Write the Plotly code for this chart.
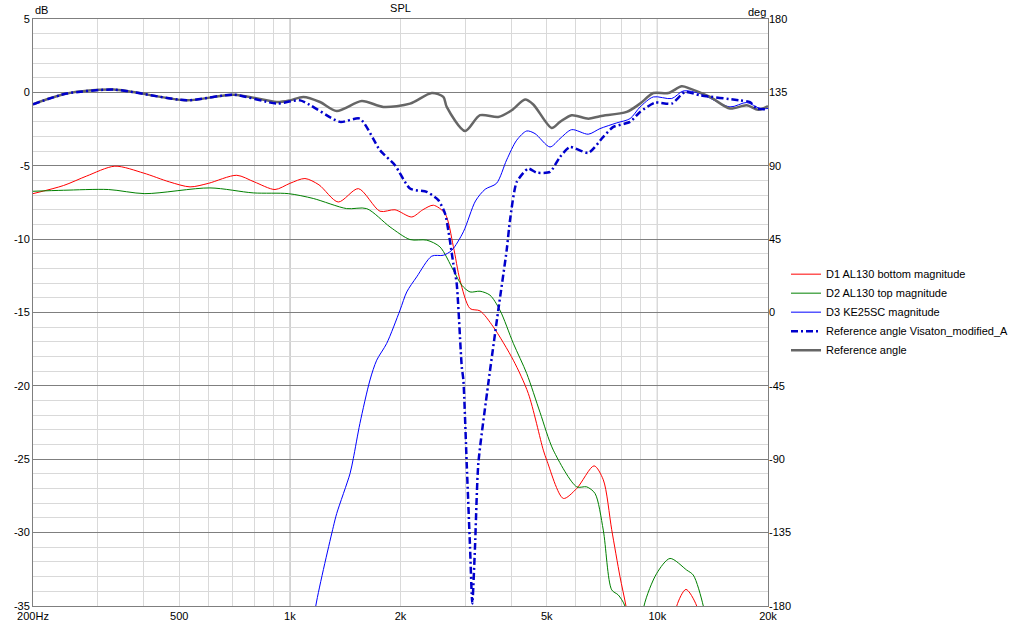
import plotly.graph_objects as go

# --- data (freq in Hz, magnitude in dB, angle in deg) ---
d1_freq = [200, 242, 280, 334, 400, 470, 535, 600, 717, 800, 911, 1000, 1099, 1200, 1354, 1536,
           1759, 1932, 2146, 2300, 2457, 2644, 2785, 2904, 3092, 3292, 3577, 4055, 4455, 4894,
           5000, 5547, 6034, 6725, 7126, 7512, 7912, 8214, 8600, 11000, 11289, 11960, 12794, 13300]
d1_db = [-6.9, -6.35, -5.7, -5.03, -5.5, -6.1, -6.44, -6.2, -5.65, -6.1, -6.62, -6.2, -5.87, -6.3,
         -7.47, -6.56, -8.1, -8.0, -8.49, -8.0, -7.69, -8.26, -10.5, -12.8, -14.73, -14.89, -15.98,
         -18.25, -20.52, -24.38, -25.06, -27.67, -26.99, -25.45, -26.4, -29.8, -33.0, -35.0, -38.0,
         -38.0, -35.0, -33.87, -35.0, -38.0]

d2_freq = [200, 242, 321, 403, 606, 795, 990, 1158, 1427, 1618, 1873, 2123, 2358, 2561, 2785, 2936,
           3092, 3292, 3504, 3729, 4055, 4411, 4793, 5210, 6034, 6422, 6766, 7126, 7512, 7829, 8160,
           8500, 9000, 9196, 9958, 10826, 12014, 12521, 13334, 13900]
d2_db = [-6.74, -6.67, -6.62, -6.9, -6.51, -6.85, -6.9, -7.23, -7.92, -7.92, -9.17, -10.03, -10.07,
         -10.53, -12.12, -13.14, -13.6, -13.55, -13.82, -14.84, -17.1, -19.16, -21.8, -24.38, -26.88,
         -26.88, -27.33, -29.83, -33.9, -34.25, -35.0, -38.0, -38.0, -35.0, -32.78, -31.76, -32.55,
         -32.89, -35.0, -38.0]

d3_freq = [1120, 1176, 1313, 1341, 1458, 1488, 1551, 1652, 1723, 1834, 1994, 2080, 2214, 2433, 2616,
           2758, 2966, 3200, 3400, 3650, 3890, 4142, 4411, 4645, 5103, 5433, 5845, 6487, 6980, 7752,
           8425, 8970, 9750, 10942, 11767, 13062, 15764, 17500, 19022, 20000]
d3_db = [-39.0, -35.0, -29.6, -28.7, -25.97, -24.95, -22.56, -19.6, -18.25, -17.11, -14.84, -13.6,
         -12.57, -11.16, -11.1, -10.76, -9.5, -7.4, -6.6, -6.2, -4.6, -3.26, -2.63, -2.81, -3.72,
         -3.15, -2.54, -2.85, -2.47, -2.08, -1.79, -1.0, -0.31, -0.42, 0.1, -0.08, -0.99, -0.69,
         -1.1, -1.1]

visaton_freq = [200, 247, 331, 524, 702, 921, 1066, 1369, 1551, 1759, 1932, 2123, 2358, 2535, 2644,
                2785, 2844, 2936, 2966, 3028, 3092, 3136, 3190, 3257, 3467, 3690, 3890, 3972, 4142,
                4455, 4693, 5103, 5433, 5784, 6487, 7126, 7588, 8425, 8970, 9854, 10942, 11890,
                13062, 16775, 17865, 18640, 20000]
visaton_deg = [127.7, 134.3, 136.7, 130.1, 133.6, 128.1, 130.1, 116.9, 118.9, 99.5, 90.3, 76.0, 74.0,
               68.9, 60.7, 30.0, 17.8, -33.4, -41.5, -92.6, -143.7, -178.4, -143.7, -92.6, -43.5,
               1.4, 38.2, 56.6, 80.0, 88.3, 85.8, 86.2, 95.4, 101.5, 97.9, 107.7, 113.8, 116.9,
               123.0, 128.7, 128.1, 135.2, 133.2, 130.1, 129.1, 125.1, 124.6]

ref_freq = [200, 247, 331, 524, 702, 921, 1001, 1088, 1208, 1341, 1569, 1796, 2123, 2433, 2616, 2672,
            2996, 3292, 3690, 4014, 4364, 4596, 5155, 5433, 5845, 6487, 6980, 8252, 8970, 9750,
            10712, 11649, 12269, 13908, 15764, 17500, 18800, 20000]
ref_deg = [127.7, 134.3, 136.7, 130.1, 133.6, 129.1, 130.1, 132.2, 129.1, 123.6, 129.7, 126.1, 128.1,
           134.6, 132.2, 126.1, 111.3, 121.0, 119.9, 124.0, 130.6, 127.6, 113.2, 116.9, 121.0, 118.9,
           120.4, 123.0, 128.1, 134.6, 134.6, 138.7, 137.3, 132.2, 125.1, 127.1, 124.4, 126.5]

# grid positions on the frequency axis; only some of them carry a label
x_grid = [200, 300, 400, 500, 600, 700, 800, 900, 1000, 2000, 3000, 4000, 5000, 6000, 7000,
          8000, 9000, 10000, 20000]
x_names = {200: "200Hz", 500: "500", 1000: "1k", 2000: "2k", 5000: "5k", 10000: "10k", 20000: "20k"}
db_ticks = [5, 0, -5, -10, -15, -20, -25, -30, -35]
deg_ticks = [180, 135, 90, 45, 0, -45, -90, -135, -180]

FONT = "Liberation Sans"
DARK = "#7f7f7f"
LIGHT = "#d9d9d9"

fig = go.Figure()
fig.add_trace(go.Scatter(x=d1_freq, y=d1_db, name="D1 AL130 bottom magnitude", mode="lines",
                         legendrank=1,
                         line=dict(color="#ff0000", width=1, shape="spline", smoothing=0.8)))
fig.add_trace(go.Scatter(x=d2_freq, y=d2_db, name="D2 AL130 top magnitude", mode="lines",
                         legendrank=2,
                         line=dict(color="#008000", width=1, shape="spline", smoothing=0.8)))
fig.add_trace(go.Scatter(x=d3_freq, y=d3_db, name="D3 KE25SC magnitude", mode="lines",
                         legendrank=3,
                         line=dict(color="#0000ff", width=1, shape="spline", smoothing=0.8)))
# gray drawn before the dash-dot one so the dash-dot sits on top, as in the original
fig.add_trace(go.Scatter(x=ref_freq, y=ref_deg, name="Reference angle", mode="lines", yaxis="y2",
                         legendrank=5,
                         line=dict(color="#666666", width=2.5, shape="spline", smoothing=0.8)))
fig.add_trace(go.Scatter(x=visaton_freq, y=visaton_deg, name="Reference angle Visaton_modified_A",
                         mode="lines", yaxis="y2", legendrank=4,
                         line=dict(color="#0000cc", width=2.5, dash="7px,3px,2px,3px",
                                   shape="spline", smoothing=0.6)))

# darker decade lines
for f in (1000, 10000):
    fig.add_shape(type="line", x0=f, x1=f, y0=0, y1=1, xref="x", yref="paper",
                  line=dict(color=DARK, width=1), layer="below")

fig.update_layout(
    width=1018, height=624,
    margin=dict(l=33, r=250, t=19, b=18, autoexpand=False),
    paper_bgcolor="white", plot_bgcolor="white",
    font=dict(family=FONT, size=11, color="black"),
    title=dict(text="SPL", x=0.5, xref="paper", y=0.987, yref="container", yanchor="middle",
               automargin=False, font=dict(family=FONT, size=11)),
    showlegend=True,
    legend=dict(x=1.0245, y=0.59, xanchor="left", yanchor="top", bgcolor="rgba(0,0,0,0)",
                font=dict(family=FONT, size=11), tracegroupgap=0, itemwidth=30),
    xaxis=dict(type="log", range=[2.30103, 4.30103], tickmode="array", tickvals=x_grid,
               ticktext=[x_names.get(f, "") for f in x_grid],
               showgrid=True, gridcolor=LIGHT, gridwidth=1, ticks="", showline=True,
               linecolor=DARK, mirror=True, zeroline=False, automargin=False),
    yaxis=dict(range=[-35, 5], tickmode="array", tickvals=db_ticks,
               ticktext=[str(v) for v in db_ticks],
               showgrid=True, gridcolor=DARK, gridwidth=1,
               zeroline=False, ticks="", showline=True, linecolor=DARK, mirror=True,
               automargin=False,
               minor=dict(dtick=1, showgrid=True, gridcolor=LIGHT, gridwidth=1, ticks="")),
    yaxis2=dict(range=[-180, 180], tickmode="array", tickvals=deg_ticks,
                ticktext=[str(v) for v in deg_ticks], overlaying="y", side="right",
                showgrid=False, zeroline=False, ticks="", automargin=False),
    annotations=[
        dict(text="dB", x=0, xref="paper", xanchor="left", y=1, yref="paper", yanchor="bottom",
             yshift=1, showarrow=False, font=dict(family=FONT, size=11)),
        dict(text="deg", x=1, xref="paper", xanchor="right", y=1, yref="paper", yanchor="bottom",
             yshift=-1, showarrow=False, font=dict(family=FONT, size=11)),
    ],
)

# the page body has a default 8px margin; drop it so the chart sits at the window corner
fig.write_html("out.html", config={"displayModeBar": False},
               post_script="document.body.style.margin = '0';")
